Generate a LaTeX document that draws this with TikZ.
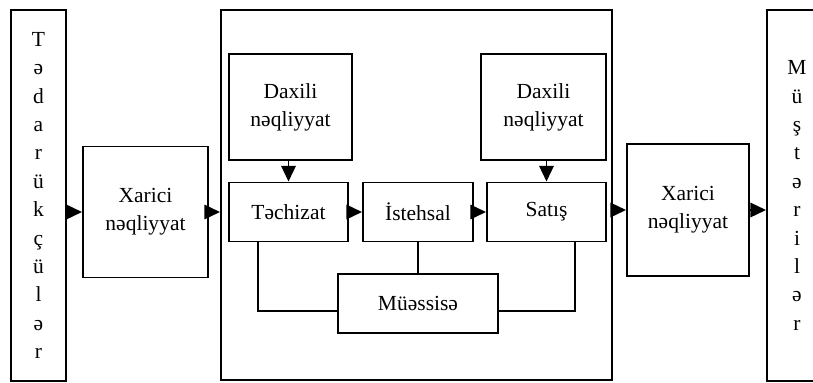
\documentclass[tikz,border=0pt]{standalone}
\usepackage{fontspec}
\setmainfont{Liberation Serif}
\usetikzlibrary{positioning,arrows.meta,calc}
\tikzset{
    auto,
    block/.style = {
        draw,
        shape=rectangle,
        align=center,
        inner sep=0pt,
        line width=1.4pt,
        font=\fontsize{15.3}{20}\selectfont
    },
    side/.style = {
        block,
        minimum height=9.275cm,
        font=\fontsize{15.3}{20.2}\selectfont
    },
    wire/.style = {
        draw,
        line width=1.4pt
    },
    arrow/.style = {
        wire,
        -{Triangle[length=3.9mm,width=3.6mm]}
    },
}

\begin{document}
\begin{tikzpicture}
            \useasboundingbox (0,0) rectangle (20.325,-9.55);

            \node[side, minimum width=1.375cm] (sup) at (0.9625,-4.8875)
            {T\\ə\\d\\a\\r\\ü\\k\\ç\\ü\\l\\ə\\r};
            \node[side, minimum width=1.5cm] (cus) at (19.925,-4.8875)
            {M\\ü\\ş\\t\\ə\\r\\i\\l\\ə\\r};
            \node[block, minimum width=3.125cm, minimum height=3.275cm] (xl) at
            (3.6375,-5.3) {Xarici\\nəqliyyat};
            \node[block, minimum width=3.05cm, minimum height=3.3cm] (xr) at
            (17.2,-5.25) {Xarici\\nəqliyyat};
            \node[block, minimum width=9.775cm, minimum height=9.25cm] (firm) at
            (10.4125,-4.875) {};

            \node[block, minimum width=3.075cm, minimum height=2.65cm] (dl) at
            (7.2625,-2.675) {Daxili\\nəqliyyat};
            \node[block, minimum width=3.125cm, minimum height=2.65cm] (dr) at
            (13.5875,-2.675) {Daxili\\nəqliyyat};
            \node[block, minimum width=2.975cm, minimum height=1.475cm] (tec) at
            (7.2125,-5.3) {Təchizat};
            \node[block, minimum width=2.75cm, minimum height=1.475cm] (ist) at
            (10.45,-5.3) {İstehsal};
            \node[block, minimum width=2.975cm, minimum height=1.475cm] (sat) at
            (13.6625,-5.3) {Satış};
            \node[block, minimum width=4cm, minimum height=1.475cm] (mue) at
            (10.45,-7.5875) {Müəssisə};

            \path[arrow] (sup.east |- xl) -- (xl);
            \path[arrow] (xl) -- (xl -| firm.west);
            \path[arrow] (dl.south -| tec) -- (tec);
            \path[arrow] (dr.south -| sat) -- (sat);
            \path[arrow] (tec) -- (ist);
            \path[arrow] (ist) -- (sat);
            \path[arrow] (firm.east |- xr) -- (xr);
            \path[arrow] (xr) -- (xr -| cus.west);

            \path[wire] (tec.225) |- (mue.185);
            \path[wire] (ist) -- (mue);
            \path[wire] (sat.313) |- (mue.355);
        \end{tikzpicture}
\end{document}
